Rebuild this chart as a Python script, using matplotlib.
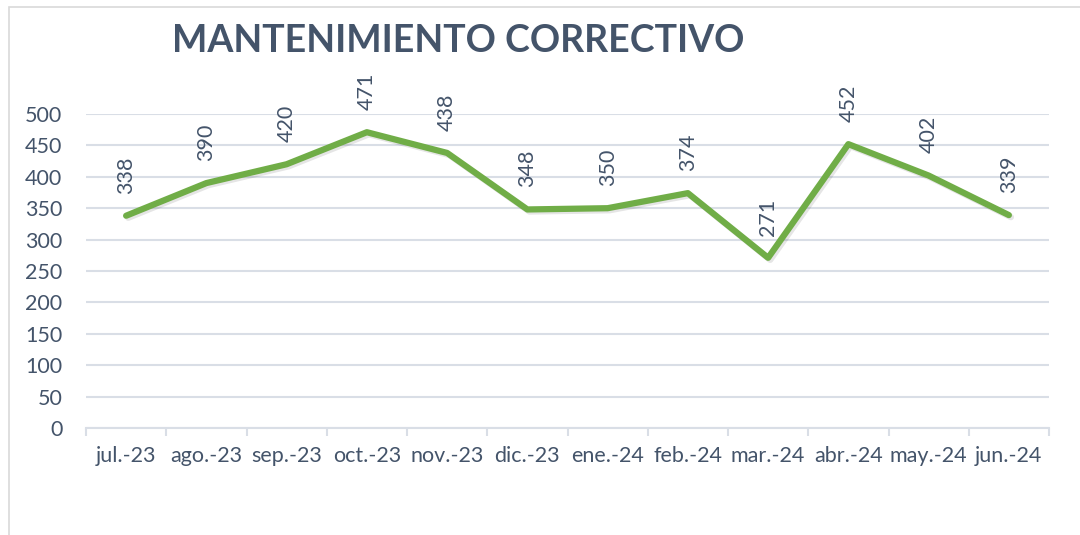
import matplotlib.pyplot as plt
import matplotlib.patheffects as pe
from matplotlib.patches import Rectangle

months = ['jul.-23', 'ago.-23', 'sep.-23', 'oct.-23', 'nov.-23', 'dic.-23',
          'ene.-24', 'feb.-24', 'mar.-24', 'abr.-24', 'may.-24', 'jun.-24']
values = [338, 390, 420, 471, 438, 348, 350, 374, 271, 452, 402, 339]
y_ticks = list(range(0, 501, 50))

TEXT = '#44546A'
GRID = '#D9DEE6'
GREEN = '#70AD47'

plt.rcParams['font.family'] = ['Lato', 'DejaVu Sans']

fig = plt.figure(figsize=(10.8, 5.35), dpi=100)
# chart border (cut off on the right and bottom like the screenshot)
fig.patches.append(Rectangle((9 / 1080, -0.05), 1.2, (535 - 7) / 535 + 0.05,
                             transform=fig.transFigure, fill=False,
                             edgecolor='#D9D9D9', linewidth=1.2))

ax = fig.add_axes([86 / 1080, (535 - 428) / 535, 963 / 1080, 314 / 535])

x = list(range(len(months)))
ax.plot(x, values, color=GREEN, linewidth=4.5, solid_joinstyle='round',
        solid_capstyle='round', zorder=3,
        path_effects=[pe.SimpleLineShadow(offset=(1.5, -1.5), alpha=0.1),
                      pe.Normal()])

for xi, v in zip(x, values):
    ax.annotate(str(v), (xi, v), xytext=(0, 16), textcoords='offset points',
                rotation=90, ha='center', va='bottom', fontsize=15.5,
                color=TEXT)

ax.set_xlim(-0.5, len(months) - 0.5)
ax.set_ylim(0, 500)
ax.set_yticks(y_ticks)
ax.set_yticklabels([str(t) for t in y_ticks], fontsize=15.5, color=TEXT)
ax.set_xticks(x)
ax.set_xticklabels(months, fontsize=15.5, color=TEXT)
ax.set_xticks([i - 0.5 for i in range(len(months) + 1)], minor=True)
ax.tick_params(axis='x', which='major', length=0, pad=13)
ax.tick_params(axis='x', which='minor', length=6, color=GRID, width=1.5)
ax.tick_params(axis='y', length=0, pad=17)

ax.grid(axis='y', color=GRID, linewidth=1.5)
ax.set_axisbelow(True)
for side in ['top', 'right', 'left']:
    ax.spines[side].set_visible(False)
ax.spines['bottom'].set_color(GRID)
ax.spines['bottom'].set_linewidth(1.5)

fig.text(458 / 1080, 1 - 41 / 535, 'MANTENIMIENTO CORRECTIVO', ha='center',
         va='center', fontsize=27, fontweight='bold', color=TEXT)

fig.savefig('out.png', dpi=100)
